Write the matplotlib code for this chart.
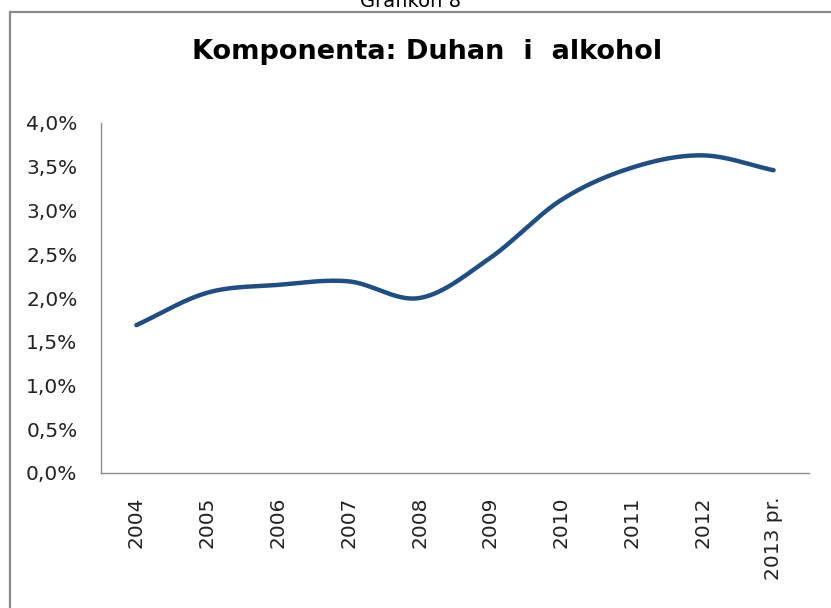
import numpy as np
import matplotlib
matplotlib.use("Agg")
import matplotlib.pyplot as plt
from matplotlib.patches import Rectangle
from matplotlib.ticker import FuncFormatter

years = ["2004", "2005", "2006", "2007", "2008", "2009", "2010", "2011", "2012", "2013 pr."]
share = [1.69, 2.06, 2.15, 2.19, 2.00, 2.46, 3.12, 3.49, 3.63, 3.46]


def smooth(y, n=30):
    # Catmull-Rom curve through the points, like Excel's smoothed line
    y = np.asarray(y, dtype=float)
    p = np.concatenate([[2 * y[0] - y[1]], y, [2 * y[-1] - y[-2]]])
    xs, ys = [], []
    for i in range(len(y) - 1):
        t = np.linspace(0, 1, n, endpoint=False)
        p0, p1, p2, p3 = p[i], p[i + 1], p[i + 2], p[i + 3]
        yy = 0.5 * ((2 * p1) + (-p0 + p2) * t + (2 * p0 - 5 * p1 + 4 * p2 - p3) * t ** 2
                    + (-p0 + 3 * p1 - 3 * p2 + p3) * t ** 3)
        xs.append(i + t)
        ys.append(yy)
    xs.append([len(y) - 1])
    ys.append([y[-1]])
    return np.concatenate(xs), np.concatenate(ys)


fig = plt.figure(figsize=(8.31, 6.08), dpi=100)
ax = fig.add_axes([101 / 831, 1 - 473 / 608, (809 - 101) / 831, (473 - 123) / 608])

xs, ys = smooth(share)
ax.plot(xs, ys, color="#1f4e85", lw=3.2, solid_capstyle="round")

ax.set_xlim(-0.5, len(years) - 0.5)
ax.set_ylim(0, 4.0)
ax.set_yticks(np.arange(0, 4.01, 0.5))
ax.yaxis.set_major_formatter(FuncFormatter(lambda v, p: f"{v:.1f}%".replace(".", ",")))
ax.set_xticks(range(len(years)))
ax.set_xticklabels(years, rotation=90, va="top")
ax.tick_params(axis="both", length=0, labelsize=14.5, colors="#222222")
ax.tick_params(axis="y", pad=17)
ax.tick_params(axis="x", pad=17)

for s in ["top", "right"]:
    ax.spines[s].set_visible(False)
for s in ["left", "bottom"]:
    ax.spines[s].set_color("#8c8c8c")
    ax.spines[s].set_linewidth(1.0)

fig.patches.append(Rectangle((10 / 831, -0.1), 1.2, 1.1 - 12 / 608, transform=fig.transFigure,
                             fill=False, edgecolor="#8a8a8a", lw=1.6))
fig.text(427 / 831, 1 - 52 / 608, "Komponenta: Duhan  i  alkohol", ha="center", va="center",
         fontsize=19.5, fontweight="bold", color="black")
fig.text(410 / 831, 1 - 7 / 608, "Grafikon 8", ha="center", va="baseline", fontsize=14)

fig.savefig("out.png", dpi=100)
